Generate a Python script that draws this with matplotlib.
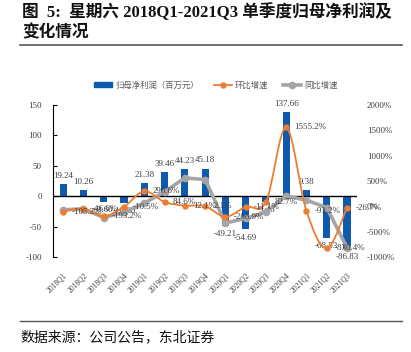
import matplotlib
matplotlib.use("Agg")
import matplotlib.pyplot as plt
from matplotlib.path import Path
from matplotlib.patches import PathPatch
from matplotlib.lines import Line2D
from matplotlib.patches import Patch
import numpy as np

quarters = ["2018Q1", "2018Q2", "2018Q3", "2018Q4", "2019Q1", "2019Q2", "2019Q3", "2019Q4",
            "2020Q1", "2020Q2", "2020Q3", "2020Q4", "2021Q1", "2021Q2", "2021Q3"]
profit = [19.24, 10.26, -9.6, -10.6, 21.38, 39.46, 44.23, 45.18,
          -49.21, -54.69, -9.46, 137.66, 9.38, -68.53, -86.83]
qoq = [-105.2, -46.6, -193.2, -10.5, 296.6, 84.6, 12.1, 2.1,
       -208.9, -11.1, 82.7, 1555.2, -93.2, -830.4, -26.7]
yoy = [-70, -50, -223, -120, 60, 284.6, 560, 527,
       -330.2, -238.6, -121.4, 204.7, 119.1, -25.3, -817.9]

left_ticks = [-100, -50, 0, 50, 100, 150]
right_ticks = [-1000, -500, 0, 500, 1000, 1500, 2000]

BLUE = "#0F5AAE"
ORANGE = "#ED7D31"
GRAY = "#A5A5A5"
TXT = "#404040"
SERIF = "Liberation Serif"
CJK = ["Liberation Serif", "Noto Sans CJK SC"]

plt.rcParams["font.family"] = ["Noto Sans CJK SC", "DejaVu Sans"]

fig = plt.figure(figsize=(4.11, 3.52), dpi=100)
ax = fig.add_axes([0.129, 0.270, 0.740, 0.432])
ax2 = ax.twinx()

x = np.arange(len(quarters))
ax.bar(x, profit, width=0.35, color=BLUE, zorder=2)
for xi, v in zip(x, profit):
    ax.annotate(f"{v:.2f}", (xi, v), xytext=(0, 3 if v >= 0 else -3),
                textcoords="offset points", ha="center",
                va="bottom" if v >= 0 else "top",
                fontsize=6.5, family=SERIF, color=TXT)

ax.set_xlim(-0.5, len(quarters) - 0.5)
ax.set_ylim(-100, 150)
ax.set_yticks(left_ticks)
ax.set_yticklabels([str(t) for t in left_ticks], family=SERIF, fontsize=6.5, color=TXT)
ax.axhline(0, color="black", lw=1, zorder=3)
ax.set_xticks(x)
ax.set_xticklabels(quarters, rotation=45, ha="right", va="top", rotation_mode="anchor",
                   family=SERIF, fontsize=5.5, color=TXT)
ax.tick_params(axis="x", length=0, pad=10)
ax.tick_params(axis="y", direction="in", length=3, pad=8)
for s in ["top", "right", "bottom"]:
    ax.spines[s].set_visible(False)
ax.spines["left"].set_color("black")

ax2.set_ylim(-1000, 2000)
ax2.set_yticks(right_ticks)
ax2.set_yticklabels([f"{t}%" for t in right_ticks], family=SERIF, fontsize=6.5, color=TXT)
ax2.tick_params(axis="y", length=0, pad=7)
for s in ax2.spines.values():
    s.set_visible(False)


def smooth(axis, xs, ys, **kw):
    # smooth curve through the points, like the office "smoothed line" style
    pts = np.column_stack([xs, ys]).astype(float)
    n = len(pts)
    verts = [pts[0]]
    codes = [Path.MOVETO]
    for i in range(n - 1):
        p0 = pts[i - 1] if i > 0 else pts[i]
        p1, p2 = pts[i], pts[i + 1]
        p3 = pts[i + 2] if i + 2 < n else pts[i + 1]
        verts += [p1 + (p2 - p0) / 6, p2 - (p3 - p1) / 6, p2]
        codes += [Path.CURVE4] * 3
    axis.add_patch(PathPatch(Path(verts, codes), fill=False, transform=axis.transData, **kw))


ax2.plot(x, yoy, color=GRAY, lw=2.6, marker="o", ms=4.5, zorder=3)
smooth(ax2, x, qoq, edgecolor=ORANGE, lw=1.3, zorder=4)
ax2.plot(x, qoq, ls="none", marker="o", ms=3.6, color=ORANGE, zorder=5)
for xi, v in zip(x, qoq):
    ax2.annotate(f"{v:.1f}%", (xi, v), xytext=(6, 0), textcoords="offset points",
                 ha="left", va="center", fontsize=6.5, family=SERIF, color=TXT, zorder=6)

handles = [Patch(color=BLUE),
           Line2D([], [], color=ORANGE, lw=1.3, marker="o", ms=3.6),
           Line2D([], [], color=GRAY, lw=2.6, marker="o", ms=4.5)]
fig.legend(handles, ["归母净利润（百万元）", "环比增速", "同比增速"], ncol=3,
           loc="center", bbox_to_anchor=(0.525, 0.758), frameon=False,
           prop={"family": "Noto Sans CJK SC", "size": 6}, labelcolor="#595959",
           handlelength=2.2, handleheight=0.5, columnspacing=1.8, handletextpad=0.3)

fig.text(0.054, 0.966, "图  5:  星期六 2018Q1-2021Q3 单季度归母净利润及", family=CJK,
         fontsize=12, weight="bold", va="center", ha="left", color="#111111")
fig.text(0.054, 0.906, "变化情况", family=CJK, fontsize=12, weight="bold",
         va="center", ha="left", color="#111111")
fig.add_artist(Line2D([0.049, 0.978], [0.872, 0.872], color="#555555", lw=1.2))
fig.add_artist(Line2D([0.049, 0.978], [0.089, 0.089], color="#555555", lw=1.0))
fig.text(0.049, 0.042, "数据来源：公司公告，东北证券", family="Noto Sans CJK SC",
         fontsize=10, va="center", ha="left", color="#111111")

fig.savefig("out.png", dpi=100)
